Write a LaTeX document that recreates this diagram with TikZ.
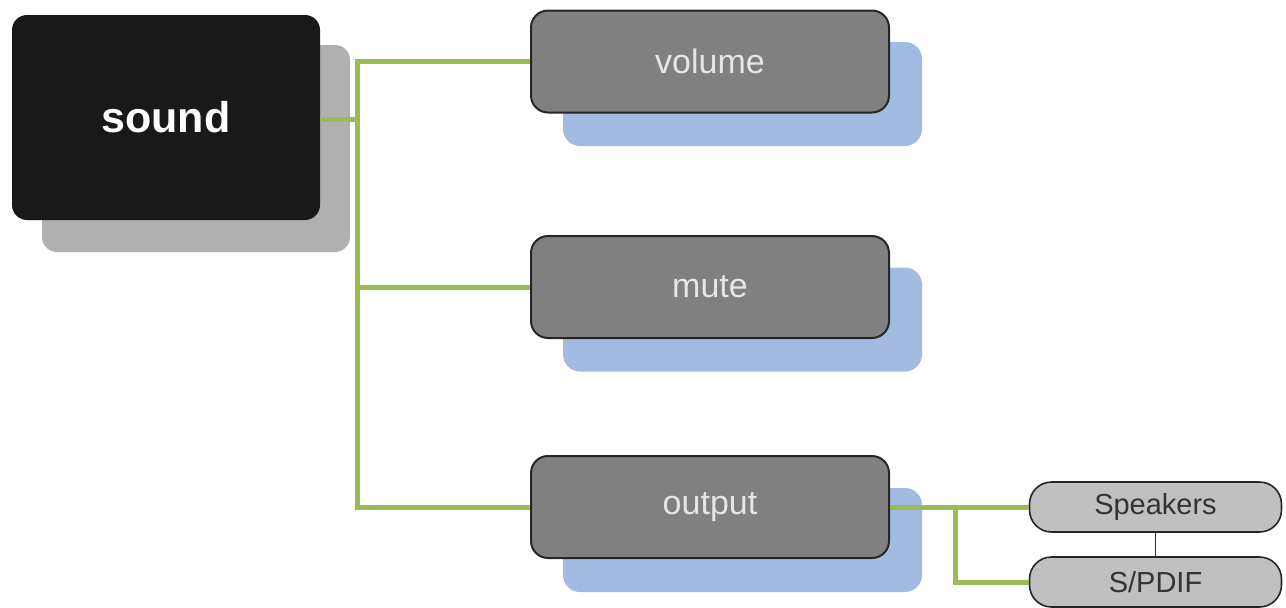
\documentclass[tikz,border=0pt]{standalone}
\usepackage{fontspec}
\setmainfont{Liberation Sans}
\definecolor{gline}{HTML}{9BBB59}
\definecolor{shblue}{HTML}{A3BBE0}
\definecolor{shgray}{HTML}{B0B0B0}
\definecolor{boxgray}{HTML}{808080}
\definecolor{leafgray}{HTML}{C0C0C0}
\definecolor{txtlight}{HTML}{E6E6E6}
\definecolor{txtdark}{HTML}{333333}
\begin{document}
\begin{tikzpicture}[x=1pt,y=-1pt,
  rootbox/.style={fill=black!90, rounded corners=15pt, minimum width=308pt, minimum height=205pt, inner sep=0pt, text=white, font=\fontsize{43}{48}\selectfont\bfseries},
  rootshadow/.style={fill=shgray, rounded corners=15pt, minimum width=308pt, minimum height=207pt, inner sep=0pt},
  midbox/.style={fill=boxgray, draw=black!85, line width=2pt, rounded corners=17pt, minimum width=358pt, minimum height=102pt, inner sep=0pt, text=txtlight, font=\fontsize{34}{39}\selectfont},
  midshadow/.style={fill=shblue, rounded corners=17pt, minimum width=359pt, minimum height=104pt, inner sep=0pt},
  leafbox/.style={fill=leafgray, draw=black!85, line width=1.6pt, rounded corners=22pt, minimum width=252pt, minimum height=50pt, inner sep=0pt, text=txtdark, font=\fontsize{29}{34}\selectfont},
  conn/.style={draw=gline, line width=5pt},
  thin/.style={draw=black!80, line width=1.5pt}
]
\useasboundingbox (0,0) rectangle (1286,608);
% shadows
\node[rootshadow] (soundsh) at (196,148.5) {};
\node[midshadow] (volsh) at (742.5,94) {};
\node[midshadow] (mutesh) at (742.5,319.5) {};
\node[midshadow] (outsh) at (742.5,540) {};
% main nodes
\node[rootbox] (sound) at (166,117.5) {sound};
\node[midbox] (volume) at (710,61.5) {volume};
\node[midbox] (mute) at (710,287) {mute};
\node[midbox] (output) at (710,507) {output};
\node[leafbox] (spk) at (1155.5,507) {Speakers};
\node[leafbox] (spdif) at (1155.5,582) {S/PDIF};
% connectors
\coordinate (bus) at (357,119);
\draw[conn] (sound.east |- bus) -- (bus);
\draw[conn] (volume.west) -| (357,119) |- (output.west);
\draw[conn] (mute.west) -- (mute.west -| bus);
\coordinate (bus2) at (955,507);
\draw[conn] (output.east) -- (spk.west);
\draw[conn] (bus2) |- (spdif.west);
\draw[thin] (spk.south) -- (spdif.north);
\end{tikzpicture}
\end{document}
